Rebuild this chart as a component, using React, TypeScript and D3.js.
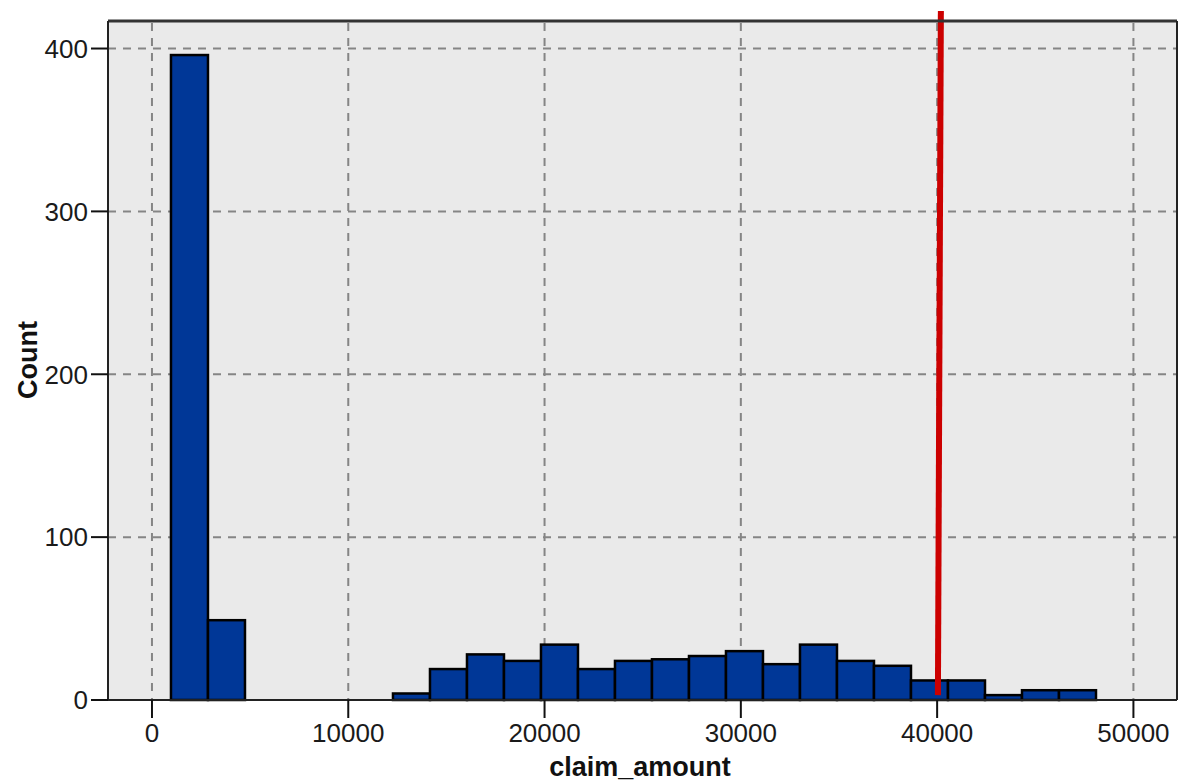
import React from "react";
import * as d3 from "d3";

const binStart = 968;
const binWidth = 1885;
const counts = [396, 49, 0, 0, 0, 0, 4, 19, 28, 24, 34, 19, 24, 25, 27, 30, 22, 34, 24, 21, 12, 12, 3, 6, 6];
const xTicks = [0, 10000, 20000, 30000, 40000, 50000];
const yTicks = [0, 100, 200, 300, 400];
const refLine = [
  { x: 40190, y: 423 },
  { x: 40040, y: 3 },
];
const xTitle = "claim_amount";
const yTitle = "Count";

const W = 1178;
const H = 783;
const L = 108, R = 1177, T = 21, B = 700;

export default function App() {
  const x = d3.scaleLinear().domain([-2240, 52220]).range([L, R]);
  const y = d3.scaleLinear().domain([0, 416.9]).range([B, T]);
  const bins = counts.map((c, i) => ({ x0: binStart + i * binWidth, x1: binStart + (i + 1) * binWidth, c }));
  const line = d3.line<{ x: number; y: number }>().x((d) => x(d.x)).y((d) => y(d.y));
  const font = "'Liberation Sans', Arial, sans-serif";
  return (
    <svg width={W} height={H} style={{ position: "absolute", left: 0, top: 0, background: "#fff" }}>
      <rect x={L} y={T} width={R - L} height={B - T} fill="#eaeaea" />
      {xTicks.map((t) => (
        <line key={"gx" + t} x1={x(t)} x2={x(t)} y1={T + 2} y2={B} stroke="#858585" strokeWidth={2} strokeDasharray="8 7" />
      ))}
      {yTicks.filter((t) => t > 0).map((t) => (
        <line key={"gy" + t} x1={L} x2={R} y1={y(t)} y2={y(t)} stroke="#858585" strokeWidth={2} strokeDasharray="8 7" />
      ))}
      {bins.filter((b) => b.c > 0).map((b, i) => (
        <rect key={i} x={x(b.x0)} y={y(b.c)} width={x(b.x1) - x(b.x0)} height={y(0) - y(b.c)} fill="#003797" stroke="#000" strokeWidth={2.5} />
      ))}
      <path d={line(refLine) || ""} stroke="#cc0000" strokeWidth={6} fill="none" />
      <line x1={L} x2={R} y1={T} y2={T} stroke="#333" strokeWidth={3} />
      <line x1={L} x2={L} y1={T} y2={B} stroke="#222" strokeWidth={2} />
      <line x1={R} x2={R} y1={T} y2={B} stroke="#222" strokeWidth={2} />
      <line x1={L - 17} x2={R} y1={B} y2={B} stroke="#222" strokeWidth={2} />
      {yTicks.map((t) => (
        <g key={"yt" + t}>
          <line x1={L - 17} x2={L} y1={y(t)} y2={y(t)} stroke="#111" strokeWidth={2} />
          <text x={88} y={y(t)} dy="0.36em" textAnchor="end" fontFamily={font} fontSize={26} fill="#1a1a1a">
            {t}
          </text>
        </g>
      ))}
      {xTicks.map((t) => (
        <g key={"xt" + t}>
          <line x1={x(t)} x2={x(t)} y1={B} y2={B + 18} stroke="#111" strokeWidth={2} />
          <text x={x(t)} y={742} textAnchor="middle" fontFamily={font} fontSize={26} fill="#1a1a1a">
            {t}
          </text>
        </g>
      ))}
      <text x={640} y={776} textAnchor="middle" fontFamily={font} fontSize={27} fontWeight="bold" fill="#111">
        {xTitle}
      </text>
      <text transform="translate(37,360) rotate(-90)" textAnchor="middle" fontFamily={font} fontSize={27} fontWeight="bold" fill="#111">
        {yTitle}
      </text>
    </svg>
  );
}
